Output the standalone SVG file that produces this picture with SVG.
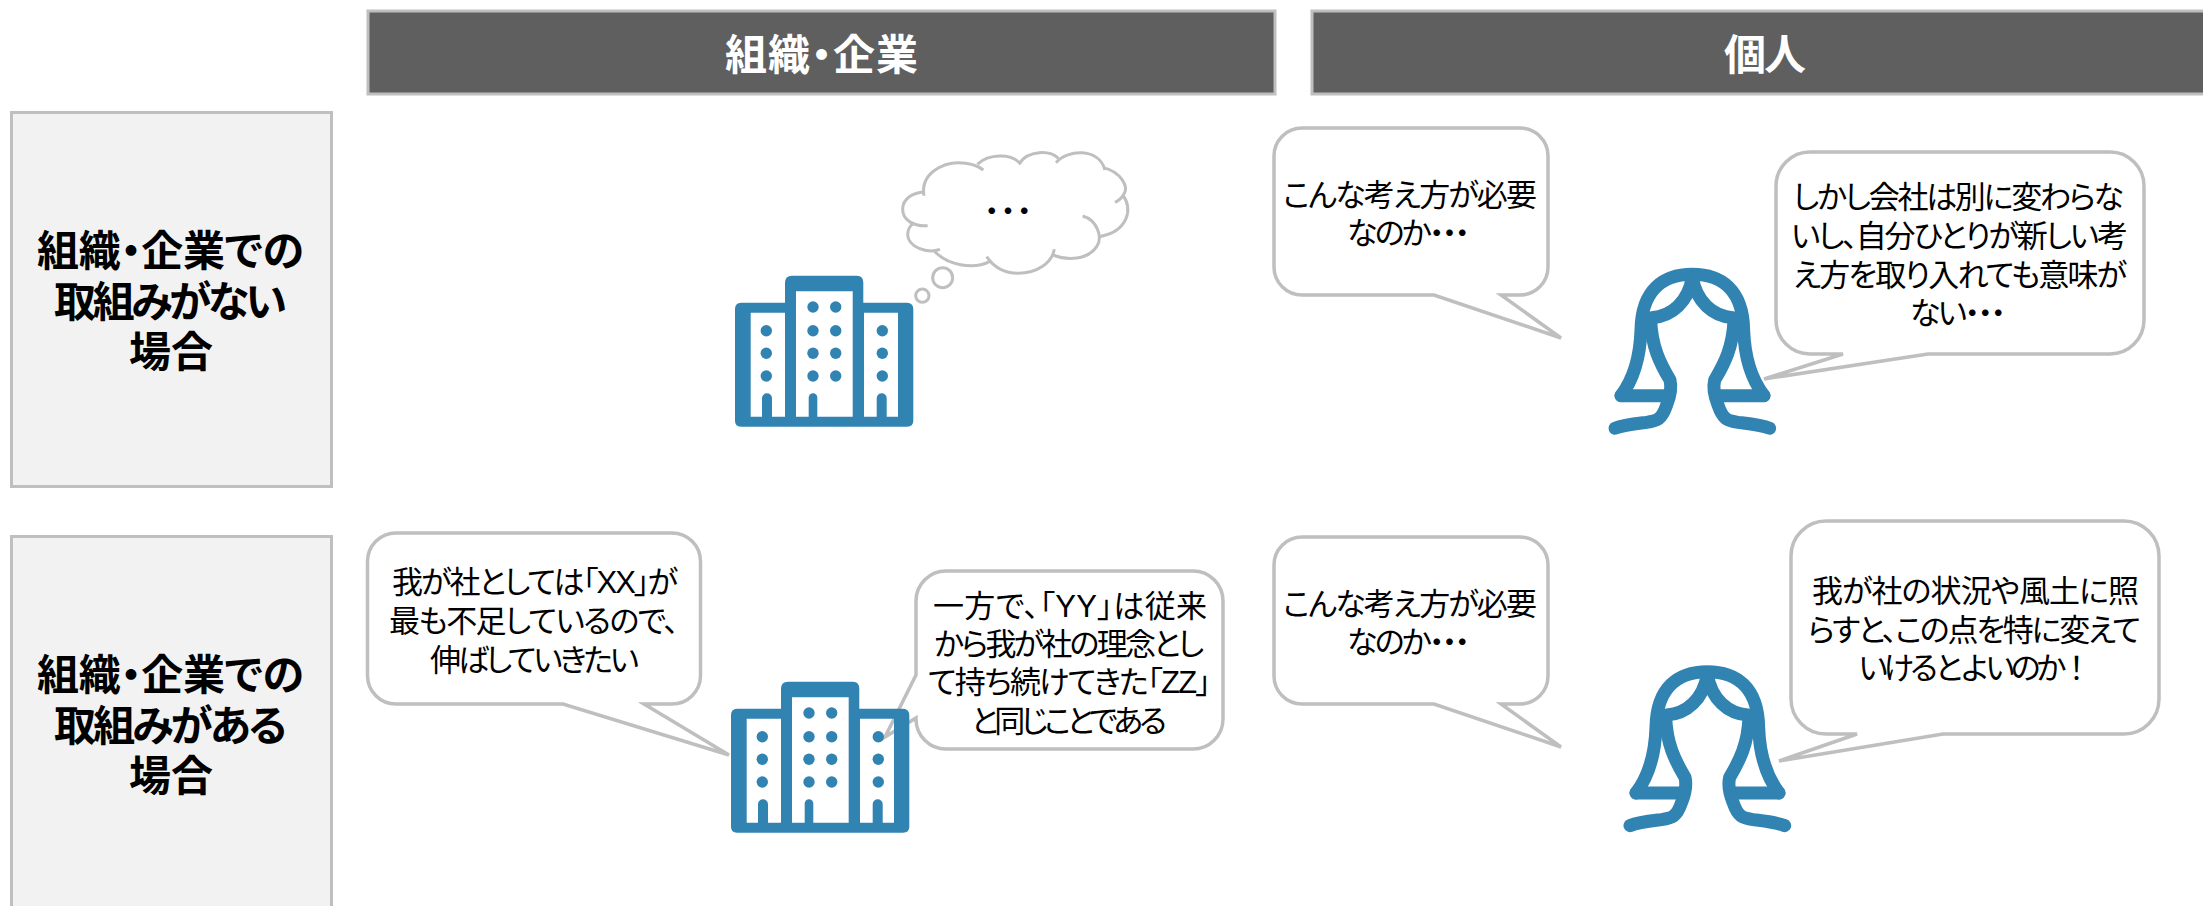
<svg xmlns="http://www.w3.org/2000/svg" width="2203" height="906" viewBox="0 0 2203 906">
<style>
text{font-family:"Liberation Sans","Noto Sans CJK JP",sans-serif;font-feature-settings:"palt";fill:#000}
.h{font-size:42px;font-weight:700}
.w{fill:#fff}
.t{font-size:31px}
.nf{font-feature-settings:normal}
.hdr{fill:#5f5f5f;stroke:#bfbfbf;stroke-width:3}
.row{fill:#f2f2f2;stroke:#bfbfbf;stroke-width:3}
.bub{fill:#fff;stroke:#bfbfbf;stroke-width:3.5;stroke-linejoin:miter}
.cl{fill:none;stroke:#bfbfbf;stroke-width:9;stroke-linecap:butt}
.bl{fill:#3183b2}
.wm{fill:none;stroke:#3183b2;stroke-width:39;stroke-linecap:round;stroke-linejoin:round}
</style>
<defs>
<g id="bldg">
<path class="bl" fill-rule="evenodd" d="M741,302.7H785V283Q785,275.7 792,275.7H857Q863.3,275.7 863.3,283V302.7H907Q913.3,303 913.3,309V421Q913.3,426.7 907,426.7H741Q735,426.7 735,421V309Q735,303 741,302.7ZM750.7,312.7V416.7H785V312.7ZM796,291.3V416.7H852.7V291.3ZM864,312.7V416.7H898V312.7Z"/>
<g class="bl">
<circle cx="766.3" cy="330.7" r="5.7"/><circle cx="766.3" cy="353.3" r="5.7"/><circle cx="766.3" cy="376" r="5.7"/>
<circle cx="813" cy="307" r="5.7"/><circle cx="835.7" cy="307" r="5.7"/>
<circle cx="813" cy="330.7" r="5.7"/><circle cx="835.7" cy="330.7" r="5.7"/>
<circle cx="813" cy="353.3" r="5.7"/><circle cx="835.7" cy="353.3" r="5.7"/>
<circle cx="813" cy="376" r="5.7"/><circle cx="835.7" cy="376" r="5.7"/>
<circle cx="882.3" cy="330.7" r="5.7"/><circle cx="882.3" cy="353.3" r="5.7"/><circle cx="882.3" cy="376" r="5.7"/>
<path d="M762,417V398.3A5,5 0 0 1 772,398.3V417Z"/>
<path d="M808.7,417V397.6A4.3,4.3 0 0 1 817.3,397.6V417Z"/>
<path d="M876.7,417V398.3A5,5 0 0 1 886.7,398.3V417Z"/>
</g>
</g>
<g id="woman" class="wm" transform="translate(1560,240) scale(0.33333)">
<path d="M183,467C215,425 240,360 243,270C245,150 310,103 397,103C484,103 549,150 551,270C554,360 580,425 612,467"/>
<path d="M183,467H320M612,467H474"/>
<path d="M272,240C275,320 300,370 330,420C336,445 330,470 320,495C305,540 290,543 260,547C220,552 190,555 165,565"/>
<path d="M522,240C519,320 494,370 464,420C458,445 464,470 474,495C489,540 504,543 534,547C574,552 604,555 629,565"/>
<path d="M397,112C385,185 335,230 275,233"/>
<path d="M397,112C409,185 459,230 519,233"/>
</g>
</defs>

<g id="header-org"><rect class="hdr" x="368" y="11" width="907" height="83"/><text class="h w" x="725" y="70" textLength="193">組織・企業</text></g>
<g id="header-person"><rect class="hdr" x="1312" y="11" width="1000" height="83"/><text class="h w" x="1724" y="70" textLength="82">個人</text></g>

<g id="row-1"><rect class="row" x="11.5" y="112.5" width="320" height="374"/>
<text class="h" x="37" y="266" textLength="267">組織・企業での</text>
<text class="h" x="54" y="317" textLength="233">取組みがない</text>
<text class="h" x="129" y="367" textLength="84">場合</text></g>
<g id="row-2"><rect class="row" x="11.5" y="536.5" width="320" height="500"/>
<text class="h" x="37" y="690" textLength="267">組織・企業での</text>
<text class="h" x="54" y="741" textLength="233">取組みがある</text>
<text class="h" x="129" y="791" textLength="84">場合</text></g>

<g id="thought-cloud">
<g class="cl" transform="translate(700,130) scale(0.33333)">
<path d="M672,197C660,130 730,98 775,98C810,98 835,108 850,120"/>
<path d="M832,103C865,72 935,68 962,103"/>
<path d="M958,100C985,60 1050,60 1075,85"/>
<path d="M1068,98C1100,60 1195,50 1215,120"/>
<path d="M1210,113C1260,125 1290,170 1270,195C1265,205 1255,212 1245,217"/>
<path d="M1268,195C1300,235 1285,305 1198,320"/>
<path d="M1148,258C1190,270 1210,320 1190,350C1165,390 1100,392 1060,375"/>
<path d="M1063,358C1055,400 1010,430 955,430C910,430 880,410 860,380"/>
<path d="M868,395C820,420 740,405 702,362"/>
<path d="M720,358C680,372 625,350 623,315C623,300 630,285 642,280"/>
<path d="M683,287C640,290 608,270 608,238C608,205 640,188 672,186"/>
<circle cx="728" cy="443" r="30"/>
<circle cx="667" cy="497" r="20"/>
</g>
<text class="t" x="984" y="222" textLength="48">・・・</text>
</g>

<g id="building-1"><use href="#bldg"/></g>

<g id="bubble-1"><path class="bub" d="M1302,128H1520A28,28 0 0 1 1548,156V267A28,28 0 0 1 1520,295H1501L1561,338L1434,295H1302A28,28 0 0 1 1274,267V156A28,28 0 0 1 1302,128Z"/>
<text class="t" x="1283" y="206" textLength="254">こんな考え方が必要</text>
<text class="t" x="1347" y="244" textLength="123">なのか・・・</text></g>

<g id="bubble-2"><path class="bub" d="M1810,152H2110A34,34 0 0 1 2144,186V320A34,34 0 0 1 2110,354H1928L1764,379L1843,354H1810A34,34 0 0 1 1776,320V186A34,34 0 0 1 1810,152Z"/>
<text class="t" x="1793" y="208" textLength="331">しかし会社は別に変わらな</text>
<text class="t" x="1791" y="247" textLength="337">いし、自分ひとりが新しい考</text>
<text class="t" x="1793" y="286" textLength="334">え方を取り入れても意味が</text>
<text class="t" x="1910" y="324" textLength="96">ない・・・</text></g>

<g id="woman-1"><use href="#woman"/></g>

<g id="bubble-3"><path class="bub" d="M1302,537H1520A28,28 0 0 1 1548,565V676A28,28 0 0 1 1520,704H1501L1561,747L1434,704H1302A28,28 0 0 1 1274,676V565A28,28 0 0 1 1302,537Z"/>
<text class="t" x="1283" y="615" textLength="254">こんな考え方が必要</text>
<text class="t" x="1347" y="653" textLength="123">なのか・・・</text></g>

<g id="bubble-4"><path class="bub" d="M1826,521H2124A35,35 0 0 1 2159,556V699A35,35 0 0 1 2124,734H1943L1779,761L1857,734H1826A35,35 0 0 1 1791,699V556A35,35 0 0 1 1826,521Z"/>
<text class="t" x="1812" y="602" textLength="327">我が社の状況や風土に照</text>
<text class="t" x="1808" y="641" textLength="333">らすと、この点を特に変えて</text>
<text class="t nf" x="1858" y="679" textLength="234">いけるとよいのか！</text></g>

<g id="woman-2"><use href="#woman" transform="translate(15,397.3)"/></g>

<g id="bubble-5"><path class="bub" d="M396,533H672A28.5,28.5 0 0 1 700.5,561.5V675.5A28.5,28.5 0 0 1 672,704H644L729,755L563,704H396A28.5,28.5 0 0 1 367.5,675.5V561.5A28.5,28.5 0 0 1 396,533Z"/>
<text class="t" x="392" y="593" textLength="286">我が社としては「XX」が</text>
<text class="t" x="389" y="632" textLength="290">最も不足しているので、</text>
<text class="t" x="430" y="671" textLength="209">伸ばしていきたい</text></g>

<g id="bubble-6"><path class="bub" d="M946,571H1193A30,30 0 0 1 1223,601V719A30,30 0 0 1 1193,749H946A30,30 0 0 1 916,719V718L885,737L916,675V601A30,30 0 0 1 946,571Z"/>
<text class="t" x="933" y="617" textLength="274">一方で、「YY」は従来</text>
<text class="t" x="934" y="655" textLength="270">から我が社の理念とし</text>
<text class="t" x="928" y="693" textLength="283">て持ち続けてきた「ZZ」</text>
<text class="t" x="971" y="732" textLength="196">と同じことである</text></g>

<g id="building-2"><use href="#bldg" transform="translate(-4,406)"/></g>
</svg>
